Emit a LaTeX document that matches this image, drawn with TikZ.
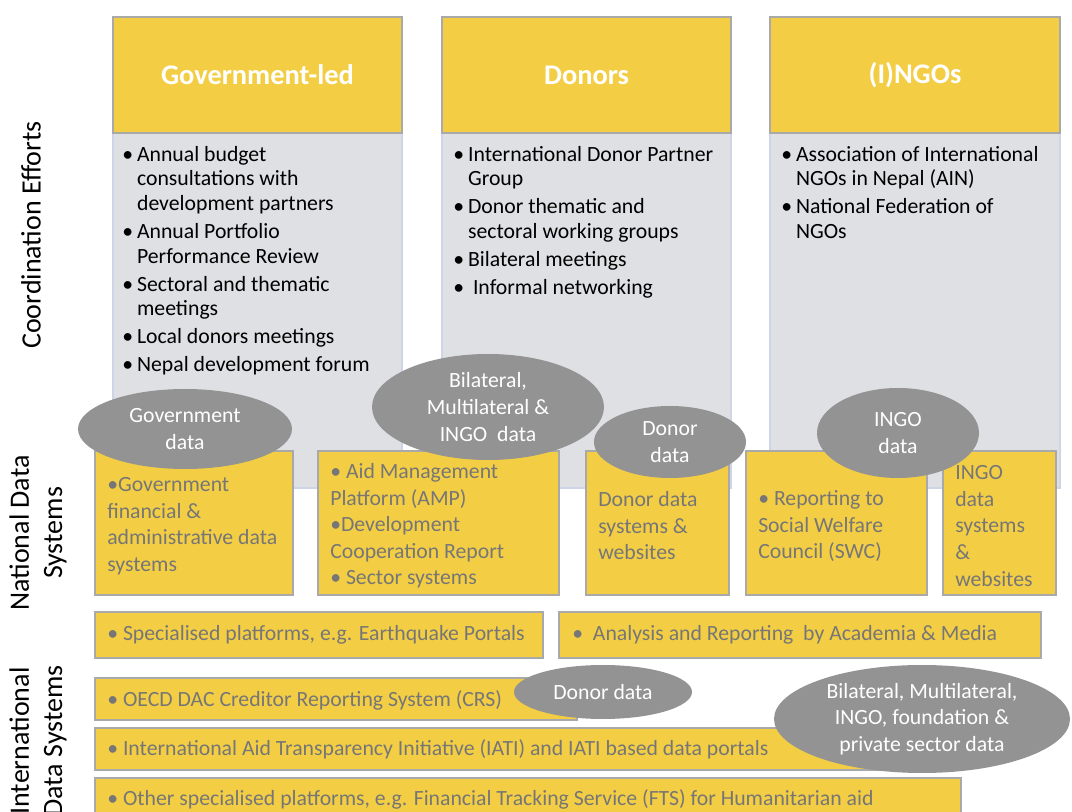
\documentclass[tikz,border=0pt]{standalone}
\usepackage{fontspec}
\setmainfont{Carlito}
\usetikzlibrary{shapes.geometric}
\definecolor{ylw}{HTML}{F3CE45}
\definecolor{bodygray}{HTML}{DFE0E3}
\definecolor{bodyline}{HTML}{CDD5E6}
\definecolor{boxline}{HTML}{A9A9A9}
\definecolor{ellgray}{HTML}{939393}
\definecolor{txtgray}{HTML}{767676}
\tikzset{
  header/.style={fill=ylw, draw=boxline, line width=1.6pt},
  bodybox/.style={fill=bodygray, draw=bodyline, line width=1.4pt},
  ybox/.style={fill=ylw, draw=boxline, line width=1.6pt},
  htitle/.style={text=white, font=\fontsize{21.3}{25}\selectfont\bfseries},
  bodytxt/.style={anchor=north west, inner sep=0pt, align=left, font=\fontsize{16.3}{18.4}\selectfont},
  ytxt/.style={anchor=west, inner sep=0pt, align=left, text=txtgray, font=\fontsize{16.3}{19.9}\selectfont},
  rowtxt/.style={anchor=west, inner sep=0pt, text=txtgray, font=\fontsize{16.3}{19.9}\selectfont},
  ell/.style={ellipse, fill=ellgray, inner sep=0pt, text=white, align=center, font=\fontsize{16.3}{20}\selectfont},
  sidelab/.style={rotate=90, align=center, font=\fontsize{21}{25}\selectfont},
}
\newcommand{\bl}{\textbullet}
\begin{document}
\begin{tikzpicture}[x=0.75pt,y=-0.75pt]
\useasboundingbox (0,0) rectangle (1072,812);
% side labels
\node[sidelab] (sl1) at (31,235) {Coordination Efforts};
\node[sidelab] (sl2) at (38,533) {National Data\\Systems};
\node[sidelab] (sl3) at (38,741) {International\\Data Systems};
% top boxes
\draw[bodybox] (113,133) rectangle (402,488);
\draw[header] (113,17) rectangle (402,133);
\node[htitle] (tgov) at (257.5,75) {Government-led};
\draw[bodybox] (442,133) rectangle (731,488);
\draw[header] (442,17) rectangle (731,133);
\node[htitle] (tdon) at (586.5,75) {Donors};
\draw[bodybox] (770,133) rectangle (1060,488);
\draw[header] (770,17) rectangle (1060,133);
\node[htitle] (tngo) at (915,75) {(I)NGOs};
% body texts
\node[bodytxt] (lgov) at (122,144) {\begin{tabular}{@{}l@{\hspace{3pt}}l@{}}
\bl & Annual budget\\ & consultations with\\ & development partners\\[2.6pt]
\bl & Annual Portfolio\\ & Performance Review\\[2.6pt]
\bl & Sectoral and thematic\\ & meetings\\[2.6pt]
\bl & Local donors meetings\\[2.6pt]
\bl & Nepal development forum
\end{tabular}};
\node[bodytxt] (ldon) at (453,144) {\begin{tabular}{@{}l@{\hspace{3pt}}l@{}}
\bl & International Donor Partner\\ & Group\\[2.6pt]
\bl & Donor thematic and\\ & sectoral working groups\\[2.6pt]
\bl & Bilateral meetings\\[2.6pt]
\bl & \ Informal networking
\end{tabular}};
\node[bodytxt] (lngo) at (781,144) {\begin{tabular}{@{}l@{\hspace{3pt}}l@{}}
\bl & Association of International\\ & NGOs in Nepal (AIN)\\[2.6pt]
\bl & National Federation of\\ & NGOs
\end{tabular}};
% national data boxes
\draw[ybox] (95,451) rectangle (293,595);
\draw[ybox] (318,451) rectangle (559,595);
\draw[ybox] (586,451) rectangle (729,595);
\draw[ybox] (746,451) rectangle (927,595);
\draw[ybox] (943,451) rectangle (1056,595);
\node[ytxt] (n1) at (107,526) {\bl Government\\financial \&\\administrative data\\systems};
\node[ytxt] (n2) at (330,526) {\bl\ Aid Management\\Platform (AMP)\\\bl Development\\Cooperation Report\\\bl\ Sector systems};
\node[ytxt] (n3) at (598,526) {Donor data\\systems \&\\websites};
\node[ytxt] (n4) at (758,526) {\bl\ Reporting to\\Social Welfare\\Council (SWC)};
\node[ytxt] (n5) at (955,526) {INGO\\data\\systems\\\&\\websites};
% ellipses national
\node[ell, minimum width=160.5pt, minimum height=60pt] (egov) at (185,429) {Government\\data};
\node[ell, minimum width=174pt, minimum height=79.5pt] (ebil) at (488,407) {Bilateral,\\Multilateral \&\\INGO\ \ data};
\node[ell, minimum width=114pt, minimum height=54pt] (edon) at (670,442) {Donor\\data};
\node[ell, minimum width=121.5pt, minimum height=67.5pt] (engo) at (898,433) {INGO\\data};
% bottom rows
\draw[ybox] (95,612) rectangle (543,658);
\node[rowtxt] (r1) at (107,635) {\bl\ Specialised platforms, e.g. Earthquake Portals};
\draw[ybox] (559,612) rectangle (1041,658);
\node[rowtxt] (r2) at (572,635) {\bl\ \ Analysis and Reporting\ \ by Academia \& Media};
\draw[ybox] (95,678) rectangle (577,720);
\node[rowtxt] (r3) at (107,700) {\bl\ OECD DAC Creditor Reporting System (CRS)};
\draw[ybox] (95,728) rectangle (961,770);
\node[rowtxt] (r4) at (107,749) {\bl\ International Aid Transparency Initiative (IATI) and IATI based data portals};
\draw[ybox] (95,778) rectangle (961,830);
\node[rowtxt] (r5) at (107,799) {\bl\ Other specialised platforms, e.g. Financial Tracking Service (FTS) for Humanitarian aid};
% ellipses international
\node[ell, minimum width=133.5pt, minimum height=40.5pt] (edon2) at (603,692) {Donor data};
\node[ell, minimum width=222pt, minimum height=81pt] (ebig) at (922,719) {Bilateral, Multilateral,\\INGO, foundation \&\\private sector data};
\end{tikzpicture}
\end{document}
